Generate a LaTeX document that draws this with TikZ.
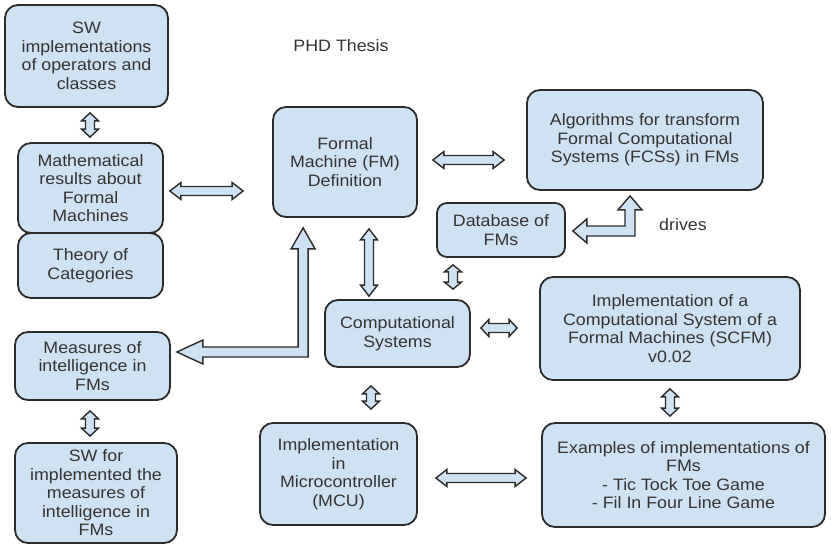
\documentclass[tikz,border=0pt]{standalone}
\usepackage{fontspec}
\setmainfont[FakeStretch=1.08]{Liberation Sans}
\usetikzlibrary{calc}

\definecolor{boxfill}{HTML}{CFE2F3}
\definecolor{edge}{HTML}{2B2B2B}
\definecolor{ink}{HTML}{333333}

% sizes of the hollow double-headed arrows
\newcommand\arrowhw{8.5pt}%  head half width
\newcommand\arrowsw{4.5pt}% shaft half width

\tikzset{
  box/.style={draw=edge, line width=1.8pt, fill=boxfill, rounded corners=13pt,
    align=center, text=ink, inner sep=0pt,
    font=\fontsize{16.5}{18.5}\selectfont},
  arrowshape/.style={draw=edge, line width=1.4pt, fill=boxfill, line join=miter},
  plainlabel/.style={text=ink, inner sep=0pt, font=\fontsize{16.5}{18.5}\selectfont},
}

% straight hollow arrow with a head at each end, tips at #2 and #3,
% head length #1
\newcommand\hollowarrow[3][11pt]{%
  \coordinate (ha) at #2;
  \coordinate (hb) at #3;
  \coordinate (pa) at ($(ha)!#1!(hb)$);
  \coordinate (pb) at ($(hb)!#1!(ha)$);
  \filldraw[arrowshape] (ha)
    -- ($(pa)!\arrowhw!90:(hb)$) -- ($(pa)!\arrowsw!90:(hb)$)
    -- ($(pb)!\arrowsw!-90:(ha)$) -- ($(pb)!\arrowhw!-90:(ha)$)
    -- (hb)
    -- ($(pb)!\arrowhw!90:(ha)$) -- ($(pb)!\arrowsw!90:(ha)$)
    -- ($(pa)!\arrowsw!-90:(hb)$) -- ($(pa)!\arrowhw!-90:(hb)$)
    -- cycle;}

\begin{document}
\begin{tikzpicture}[x=1pt, y=-1pt]
\useasboundingbox (0,0) rectangle (831,546);
\fill[white] (0,0) rectangle (831,546);

% boxes
\node[box, minimum width=163pt, minimum height=102pt] (swimp) at (86.5,56)
  {SW\\implementations\\of operators and\\classes};
\node[box, minimum width=145pt, minimum height=65pt] (theory) at (90.5,265.5)
  {Theory of\\Categories};
\node[box, minimum width=145pt, minimum height=90pt] (math) at (90.5,188)
  {Mathematical\\results about\\Formal\\Machines};
\node[box, minimum width=144pt, minimum height=110pt] (fm) at (345,162)
  {Formal\\Machine (FM)\\Definition};
\node[box, minimum width=236pt, minimum height=100pt] (algo) at (645,140)
  {Algorithms for transform\\Formal Computational\\Systems (FCSs) in FMs};
\node[box, rounded corners=10pt, minimum width=128pt, minimum height=54pt] (db) at (501,230)
  {Database of\\FMs};
\node[box, minimum width=145pt, minimum height=67pt] (comp) at (397.5,333.5)
  {Computational\\Systems};
\node[box, minimum width=260pt, minimum height=103pt] (scfm) at (670,328.5)
  {Implementation of a\\Computational System of a\\Formal Machines (SCFM)\\v0.02};
\node[box, minimum width=283pt, minimum height=104pt] (ex) at (683.5,475)
  {Examples of implementations of\\FMs\\- Tic Tock Toe Game\\- Fil In Four Line Game};
\node[box, minimum width=155pt, minimum height=68pt] (meas) at (92.5,366)
  {Measures of\\intelligence in\\FMs};
\node[box, minimum width=162pt, minimum height=100pt] (swfor) at (96,493)
  {SW for\\implemented the\\measures of\\intelligence in\\FMs};
\node[box, minimum width=157pt, minimum height=102pt] (mcu) at (338.5,474)
  {Implementation\\in\\Microcontroller\\(MCU)};

% free texts
\node[plainlabel] (title) at (341,46) {PHD Thesis};
\node[plainlabel] (drives) at (683,225) {drives};

% straight two-headed arrows
\hollowarrow[8pt]{($(swimp.south)+(3.5,5)$)}{($(math.north)+(-0.5,-5)$)}
\hollowarrow{($(math.east)+(6,3)$)}{($(fm.west)+(-29,29)$)}
\hollowarrow{($(fm.east)+(15,-2)$)}{($(algo.west)+(-22,20)$)}
\hollowarrow{($(fm.south)+(24,11)$)}{($(comp.north)+(-28.5,-3)$)}
\hollowarrow[7pt]{($(db.south)+(-48,7)$)}{($(comp.north)+(55.5,-10)$)}
\hollowarrow[8pt]{($(comp.east)+(10,-5.5)$)}{($(scfm.west)+(-22,-0.5)$)}
\hollowarrow[8pt]{($(scfm.south)+(0,8)$)}{($(ex.north)+(-13.5,-6)$)}
\hollowarrow[8pt]{($(comp.south)+(-26.5,18)$)}{($(mcu.north)+(32.5,-13)$)}
\hollowarrow{($(mcu.east)+(18,4)$)}{($(ex.west)+(-15,3)$)}
\hollowarrow[8pt]{($(meas.south)+(-2.5,10)$)}{($(swfor.north)+(-6,-6)$)}

% bent arrow: measures <-> formal machine
\coordinate (bA) at ($(meas.east)+(6,-14)$);
\coordinate (bB) at ($(fm.south west)+(31,10)$);
\coordinate (bC) at (bB |- bA);
\filldraw[arrowshape] (bA) -- ++(26,-12) -- ++(0,7) -- ($(bC)+(-5,-5)$)
  -- ($(bB)+(-5,21)$) -- ++(-7,0) -- (bB) -- ++(12,21) -- ++(-7,0)
  -- ($(bC)+(5,5)$) -- ($(bA)+(26,5)$) -- ++(0,7) -- cycle;

% bent arrow: database <-> algorithms
\coordinate (dA) at ($(db.east)+(7,1)$);
\coordinate (dB) at ($(algo.south)+(-15,5)$);
\coordinate (dC) at (dB |- dA);
\filldraw[arrowshape] (dA) -- ++(14,-12) -- ++(0,7) -- ($(dC)+(-5,-5)$)
  -- ($(dB)+(-5,14)$) -- ++(-7,0) -- (dB) -- ++(12,14) -- ++(-7,0)
  -- ($(dC)+(5,5)$) -- ($(dA)+(14,5)$) -- ++(0,7) -- cycle;
\end{tikzpicture}
\end{document}
